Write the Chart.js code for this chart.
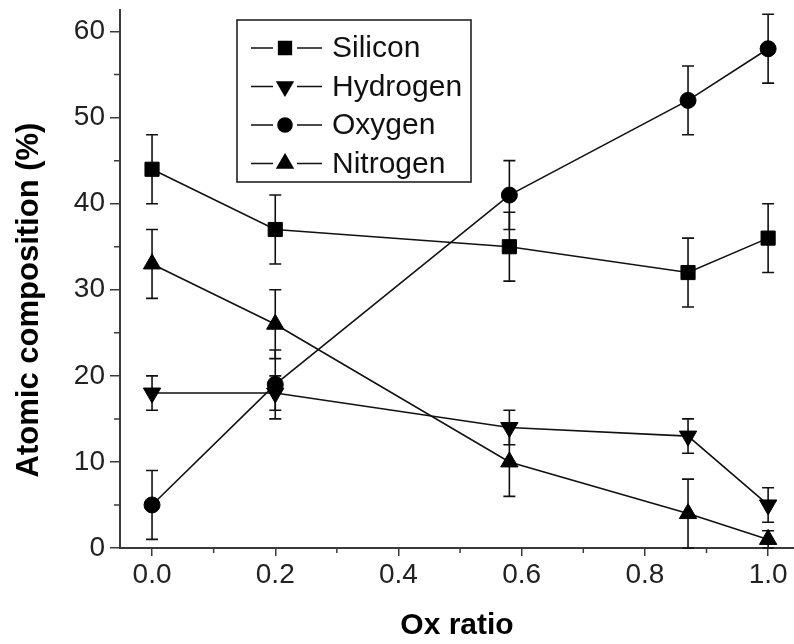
<!DOCTYPE html>
<html>
<head>
<meta charset="utf-8">
<script src="https://cdn.jsdelivr.net/npm/chart.js@4.4.1/dist/chart.umd.min.js"></script>
<style>
    html, body { margin: 0; padding: 0; background: #fff; }
    canvas { display: block; }
</style>
</head>
<body>
<canvas id="chart" width="794" height="644"></canvas>
<script>
// values
const oxRatio = [0.0, 0.2, 0.58, 0.87, 1.0];

const seriesNames = ['Silicon', 'Hydrogen', 'Oxygen', 'Nitrogen'];
const silicon = [44, 37, 35, 32, 36];
const hydrogen = [18, 18, 14, 13, 5];
const oxygen = [5, 19, 41, 52, 58];
const nitrogen = [33, 26, 10, 4, 1];

const siliconErr = [4, 4, 4, 4, 4];
const hydrogenErr = [2, 2, 2, 2, 2];
const oxygenErr = [4, 4, 4, 4, 4];
const nitrogenErr = [4, 4, 4, 4, 1];

const xTicks = [0.0, 0.2, 0.4, 0.6, 0.8, 1.0];
const yTicks = [0, 10, 20, 30, 40, 50, 60];

const yTitle = 'Atomic composition (%)';
const xTitle = 'Ox ratio';

const ink = '#111';
const axisInk = '#3a3a3a';
const fontFamily = '"Liberation Sans", Arial, sans-serif';

const markers = [
    { style: 'rect', radius: 10, rotation: 0 },
    { style: 'triangle', radius: 10, rotation: 180 },
    { style: 'circle', radius: 8, rotation: 0 },
    { style: 'triangle', radius: 10, rotation: 0 }
];

function toPoints(values) {
    return oxRatio.map((x, i) => ({ x: x, y: values[i] }));
}

const allValues = [silicon, hydrogen, oxygen, nitrogen];
const allErrors = [siliconErr, hydrogenErr, oxygenErr, nitrogenErr];

const datasets = seriesNames.map((name, i) => ({
    label: name,
    data: toPoints(allValues[i]),
    errors: allErrors[i],
    showLine: true,
    borderColor: ink,
    borderWidth: 1.6,
    backgroundColor: '#000',
    pointStyle: markers[i].style,
    pointRadius: markers[i].radius,
    pointRotation: markers[i].rotation,
    pointBorderColor: '#000',
    pointBorderWidth: 1,
    pointHoverRadius: markers[i].radius,
    clip: false
}));

// vertical error bars with caps, drawn under the markers
const errorBars = {
    id: 'errorBars',
    beforeDatasetsDraw(chart) {
        const ctx = chart.ctx;
        const xs = chart.scales.x;
        const ys = chart.scales.y;
        ctx.save();
        ctx.strokeStyle = ink;
        ctx.lineWidth = 1.6;
        chart.data.datasets.forEach(ds => {
            ds.data.forEach((p, i) => {
                const e = ds.errors[i];
                const px = xs.getPixelForValue(p.x);
                const top = ys.getPixelForValue(p.y + e);
                const bot = ys.getPixelForValue(p.y - e);
                ctx.beginPath();
                ctx.moveTo(px, top);
                ctx.lineTo(px, bot);
                ctx.moveTo(px - 6, top);
                ctx.lineTo(px + 6, top);
                ctx.moveTo(px - 6, bot);
                ctx.lineTo(px + 6, bot);
                ctx.stroke();
            });
        });
        ctx.restore();
    }
};

// short minor ticks between the labelled ones, plus the y title
const axisExtras = {
    id: 'axisExtras',
    afterDraw(chart) {
        const ctx = chart.ctx;
        const xs = chart.scales.x;
        const ys = chart.scales.y;
        const area = chart.chartArea;
        ctx.save();
        ctx.strokeStyle = axisInk;
        ctx.lineWidth = 1.5;
        ctx.beginPath();
        for (let i = 0; i < xTicks.length - 1; i++) {
            const px = xs.getPixelForValue((xTicks[i] + xTicks[i + 1]) / 2);
            ctx.moveTo(px, area.bottom);
            ctx.lineTo(px, area.bottom + 5);
        }
        for (let i = 0; i < yTicks.length - 1; i++) {
            const py = ys.getPixelForValue((yTicks[i] + yTicks[i + 1]) / 2);
            ctx.moveTo(area.left, py);
            ctx.lineTo(area.left - 6, py);
        }
        ctx.stroke();

        ctx.translate(29, 300);
        ctx.rotate(-Math.PI / 2);
        ctx.font = 'bold 31px ' + fontFamily;
        ctx.fillStyle = '#000';
        ctx.textAlign = 'center';
        ctx.textBaseline = 'middle';
        ctx.fillText(yTitle, 0, 0);
        ctx.restore();
    }
};

// boxed legend with line-marker-line samples
const boxLegend = {
    id: 'boxLegend',
    afterDraw(chart) {
        const ctx = chart.ctx;
        const box = { left: 237, top: 20, width: 234, height: 162 };
        ctx.save();
        ctx.strokeStyle = '#222';
        ctx.lineWidth = 1.6;
        ctx.strokeRect(box.left, box.top, box.width, box.height);
        ctx.font = '30px ' + fontFamily;
        ctx.textBaseline = 'middle';
        ctx.textAlign = 'left';
        chart.data.datasets.forEach((ds, i) => {
            const cy = box.top + 28 + i * 38.5;
            const cx = box.left + 48;
            ctx.strokeStyle = ink;
            ctx.lineWidth = 1.6;
            ctx.beginPath();
            ctx.moveTo(box.left + 14, cy);
            ctx.lineTo(cx - 12, cy);
            ctx.moveTo(cx + 12, cy);
            ctx.lineTo(box.left + 85, cy);
            ctx.stroke();
            ctx.fillStyle = '#000';
            ctx.strokeStyle = '#000';
            Chart.helpers.drawPoint(ctx, {
                pointStyle: ds.pointStyle,
                radius: ds.pointRadius - 1,
                rotation: ds.pointRotation,
                borderWidth: 1
            }, cx, cy);
            ctx.fillStyle = '#111';
            ctx.fillText(ds.label, box.left + 95, cy + 1);
        });
        ctx.restore();
    }
};

new Chart(document.getElementById('chart'), {
    type: 'scatter',
    data: { datasets: datasets },
    options: {
        responsive: false,
        animation: false,
        events: [],
        layout: { autoPadding: false, padding: { top: 10, right: 0, left: 0, bottom: 0 } },
        plugins: {
            legend: { display: false },
            tooltip: { enabled: false }
        },
        scales: {
            x: {
                type: 'linear',
                min: -0.052,
                max: 1.042,
                afterFit: scale => {
                    scale.height = 96;
                    scale.paddingLeft = 0;
                    scale.paddingRight = 0;
                },
                border: { display: true, color: axisInk, width: 2 },
                grid: { drawOnChartArea: false, drawTicks: true, tickLength: 8, color: axisInk, lineWidth: 1.5 },
                ticks: {
                    stepSize: 0.2,
                    includeBounds: false,
                    autoSkip: false,
                    maxRotation: 0,
                    padding: 2,
                    color: '#222',
                    font: { family: fontFamily, size: 28 },
                    callback: v => v.toFixed(1)
                },
                title: {
                    display: true,
                    text: xTitle,
                    color: '#000',
                    padding: { top: 0, bottom: 0 },
                    font: { family: fontFamily, size: 30, weight: 'bold' }
                }
            },
            y: {
                min: 0,
                max: 62.5,
                afterFit: scale => {
                    scale.width = 120;
                    scale.paddingTop = 0;
                    scale.paddingBottom = 0;
                },
                border: { display: true, color: axisInk, width: 2 },
                grid: { drawOnChartArea: false, drawTicks: true, tickLength: 10, color: axisInk, lineWidth: 1.5 },
                ticks: {
                    stepSize: 10,
                    includeBounds: false,
                    autoSkip: false,
                    padding: 5,
                    color: '#222',
                    font: { family: fontFamily, size: 28 }
                }
            }
        }
    },
    plugins: [errorBars, axisExtras, boxLegend]
});
</script>
</body>
</html>
